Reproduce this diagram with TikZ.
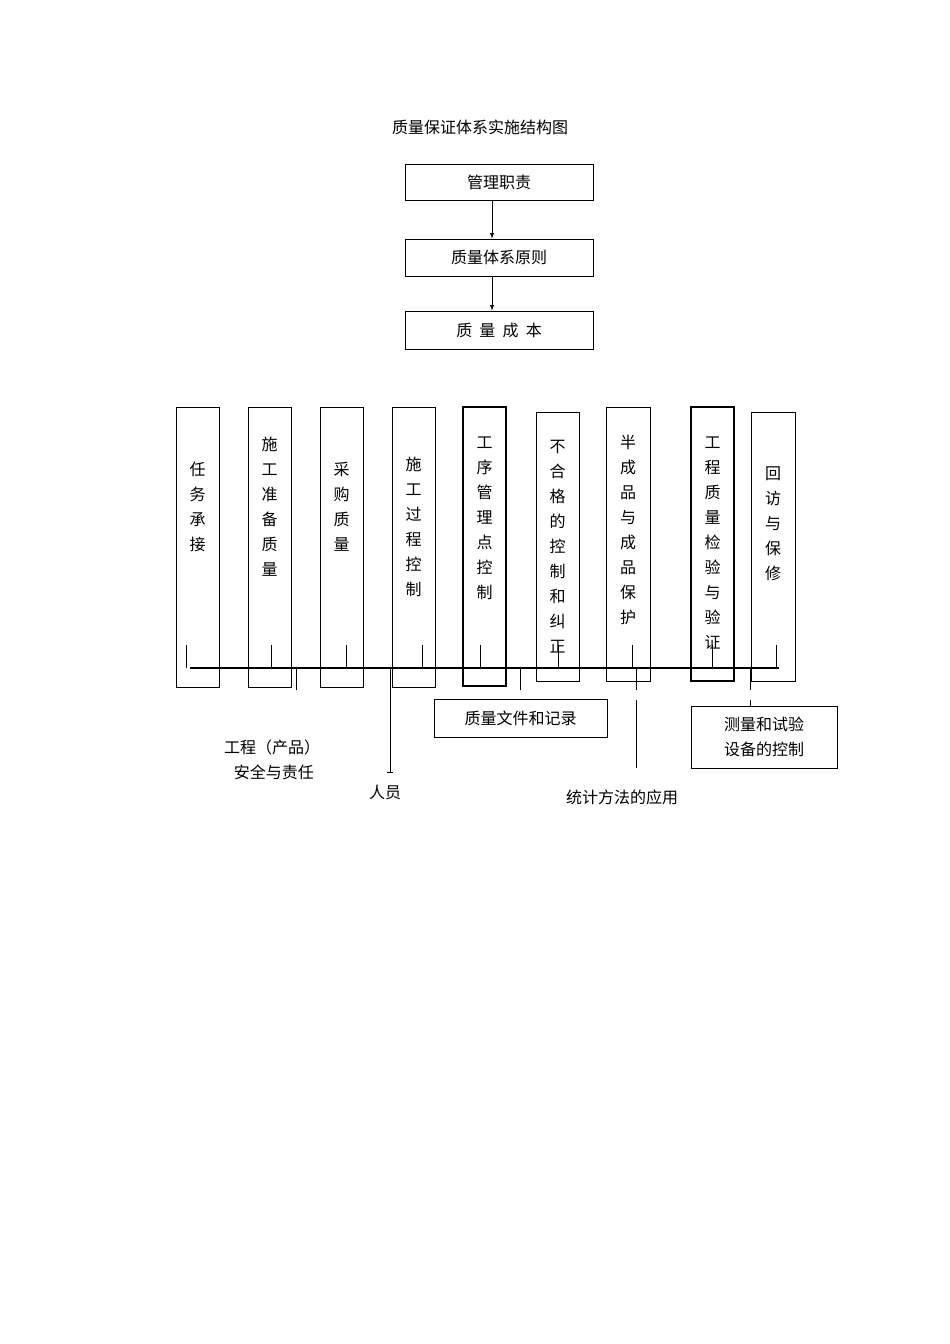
\documentclass[tikz,border=0pt]{standalone}
\usepackage{fontspec}
\newfontfamily\cjk{Noto Sans CJK SC}
\begin{document}
\begin{tikzpicture}[x=1pt,y=-1pt,
  bx/.style={draw,line width=0.8pt},
  tk/.style={line width=0.6pt},
  vt/.style={font=\cjk\fontsize{16}{25}\selectfont,align=center,anchor=north,inner sep=0pt},
  tx/.style={font=\cjk\fontsize{16}{25}\selectfont,inner sep=0pt}]
\useasboundingbox[fill=white] (0,0) rectangle (950,1344);
\node[tx] (title) at (480,127) {质量保证体系实施结构图};
\node[bx,minimum width=188pt,minimum height=36pt,tx] (a) at (499,182) {管理职责};
\node[bx,minimum width=188pt,minimum height=37pt,tx] (b) at (499,257.5) {质量体系原则};
\node[bx,minimum width=188pt,minimum height=38pt,tx] (c) at (499,330) {质\ \ 量\ \ 成\ \ 本};
\draw[-latex,line width=0.9pt] (a.south -| 492,0) -- (b.north -| 492,0);
\draw[-latex,line width=0.9pt] (b.south -| 492,0) -- (c.north -| 492,0);
% vertical boxes
\foreach \n/\l/\r/\t/\b/\ty/\s/\w in {
 v1/176/219/407/687/462/任\\务\\承\\接/0.8,
 v2/248/291/407/687/437/施\\工\\准\\备\\质\\量/0.8,
 v3/320/363/407/687/462/采\\购\\质\\量/0.8,
 v4/392/435/407/687/457/施\\工\\过\\程\\控\\制/0.8,
 v5/463/506/407/686/437/工\\序\\管\\理\\点\\控\\制/1.5,
 v6/536/579/412/681/440/不\\合\\格\\的\\控\\制\\和\\纠\\正/1.0,
 v7/606/650/407/681/435/半\\成\\品\\与\\成\\品\\保\\护/0.8,
 v8/691/734/407/681/437/工\\程\\质\\量\\检\\验\\与\\验\\证/1.5,
 v9/751/795/412/681/467/回\\访\\与\\保\\修/1.0}{
  \draw[line width=\w pt] (\l,\t) rectangle (\r,\b);
  \node[vt] (\n) at ({(\l+\r)/2},\ty) {\s};
}
% bar
\coordinate (bl) at (190,668); \coordinate (br) at (779,668);
\draw[line width=2.2pt] (bl) -- (br);
\foreach \x in {186,271,346,422,480,558,632,712,776}{\draw[tk] (\x,668) -- (\x,645);}
\foreach \x in {296,520}{\draw[tk] (\x,668) -- (\x,690);}
% boxes below
\node[bx,minimum width=173pt,minimum height=38pt,tx] (doc) at (520.5,718) {质量文件和记录};
\node[bx,minimum width=146pt,minimum height=62pt,tx,align=left] (meas) at (764,737) {测量和试验\\设备的控制};
\node[tx,align=center] (safe) at (272,760) {工程（产品）\\\ 安全与责任};
\node[tx] (ren) at (385,792) {人员};
\node[tx] (stat) at (622,797) {统计方法的应用};
\draw[tk] (390,668) -- (390,772); \draw[tk] (387,772) -- (393,772);
\draw[tk] (636,668) -- (636,690); \draw[tk] (636,700) -- (636,768);
\draw[tk] (750,668) -- (750,690); \draw[tk] (750,700) -- (meas.north -| 750,0);
\end{tikzpicture}
\end{document}
